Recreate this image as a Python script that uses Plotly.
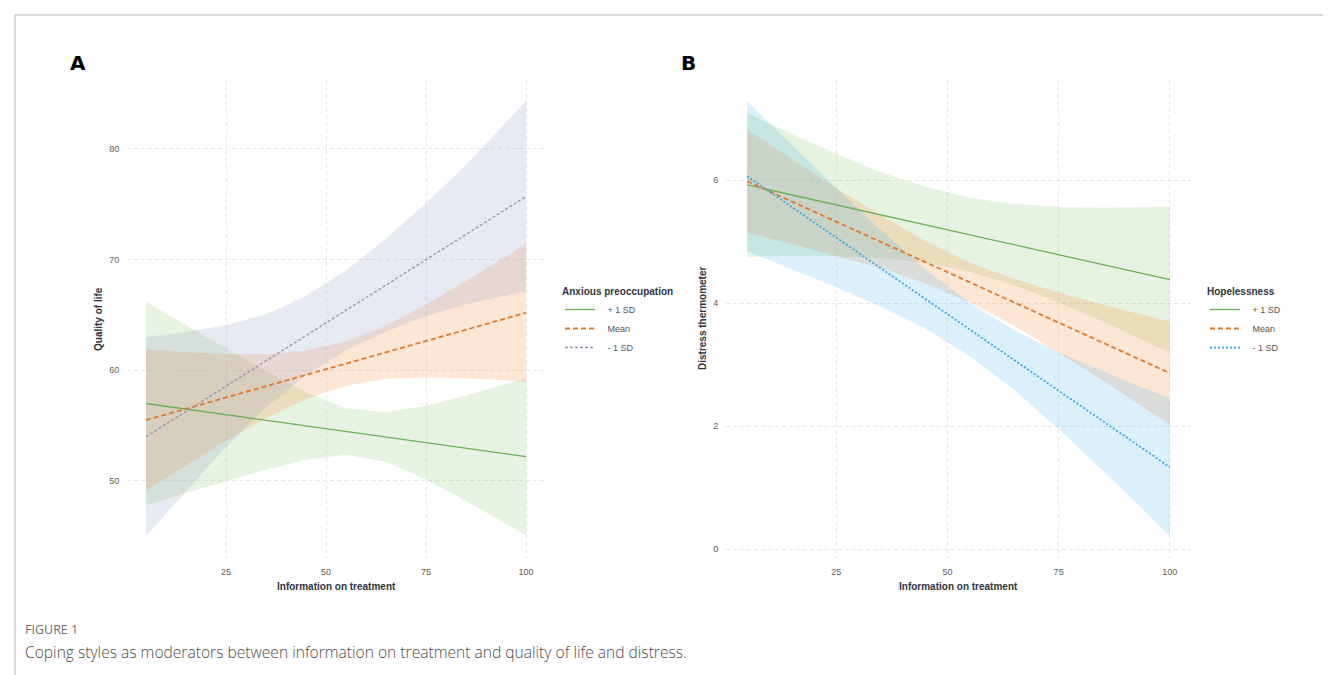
import plotly.graph_objects as go

W, H = 1331, 675

# ---------------- data ----------------
X = [5, 15, 25, 35, 45, 55, 65, 75, 85, 95, 100]
groups = ["+ 1 SD", "Mean", "- 1 SD"]

# Panel A: Quality of life, moderator = Anxious preoccupation
qol_fit_plus = [57.00, 56.49, 55.99, 55.48, 54.98, 54.47, 53.97, 53.46, 52.96, 52.45, 52.20]
qol_lo_plus = [47.81, 48.91, 50.00, 51.02, 51.91, 52.36, 51.73, 50.13, 48.20, 46.14, 45.10]
qol_hi_plus = [66.19, 64.07, 61.98, 59.94, 58.05, 56.58, 56.21, 56.79, 57.72, 58.76, 59.30]

qol_fit_mean = [55.50, 56.52, 57.54, 58.56, 59.58, 60.61, 61.63, 62.65, 63.67, 64.69, 65.20]
qol_lo_mean = [49.15, 51.42, 53.64, 55.66, 57.38, 58.61, 59.23, 59.35, 59.27, 59.09, 58.95]
qol_hi_mean = [61.85, 61.62, 61.44, 61.46, 61.78, 62.61, 64.03, 65.95, 68.07, 70.29, 71.45]

qol_fit_minus = [54.00, 56.28, 58.57, 60.85, 63.14, 65.42, 67.71, 69.99, 72.27, 74.56, 75.70]
qol_lo_minus = [45.00, 49.08, 53.07, 56.65, 59.54, 61.82, 63.51, 64.89, 65.97, 66.76, 67.10]
qol_hi_minus = [63.00, 63.48, 64.07, 65.05, 66.74, 69.02, 71.91, 75.09, 78.57, 82.36, 84.30]

# Panel B: Distress thermometer, moderator = Hopelessness
dis_fit_plus = [5.920, 5.758, 5.596, 5.434, 5.272, 5.109, 4.947, 4.785, 4.623, 4.461, 4.380]
dis_lo_plus = [4.75, 4.77, 4.76, 4.73, 4.66, 4.51, 4.29, 4.01, 3.70, 3.36, 3.19]
dis_hi_plus = [7.09, 6.75, 6.43, 6.13, 5.89, 5.71, 5.61, 5.56, 5.55, 5.56, 5.57]

dis_fit_mean = [5.980, 5.652, 5.323, 4.995, 4.666, 4.338, 4.009, 3.681, 3.353, 3.024, 2.860]
dis_lo_mean = [5.15, 4.96, 4.77, 4.57, 4.32, 4.01, 3.63, 3.19, 2.74, 2.26, 2.02]
dis_hi_mean = [6.82, 6.34, 5.87, 5.43, 5.01, 4.66, 4.39, 4.17, 3.97, 3.79, 3.70]

dis_fit_minus = [6.060, 5.562, 5.064, 4.566, 4.068, 3.570, 3.073, 2.575, 2.077, 1.579, 1.330]
dis_lo_minus = [4.84, 4.55, 4.26, 3.94, 3.59, 3.14, 2.59, 1.95, 1.27, 0.57, 0.21]
dis_hi_minus = [7.28, 6.57, 5.87, 5.19, 4.55, 4.00, 3.56, 3.20, 2.89, 2.59, 2.45]

x_ticks = [25, 50, 75, 100]
qol_ticks = [50, 60, 70, 80]
dis_ticks = [0, 2, 4, 6]

# ---------------- styles ----------------
GREEN = "#69AF55"
ORANGE = "#E07A2A"
GREYBLUE = "#9096AE"
SKY = "#3AA9DD"

FILL_GREEN = "rgba(120,190,90,0.18)"
FILL_ORANGE = "rgba(250,140,60,0.22)"
FILL_GREYBLUE = "rgba(150,160,200,0.22)"
FILL_SKY = "rgba(70,180,240,0.20)"

PAD = "&nbsp;&nbsp;&nbsp;"  # extra gap between legend key and label

fig = go.Figure()


def band(xaxis, yaxis, lo, hi, color):
    fig.add_trace(go.Scatter(
        x=X + X[::-1], y=hi + lo[::-1], fill="toself", fillcolor=color,
        line=dict(width=0), mode="lines", hoverinfo="skip", showlegend=False,
        xaxis=xaxis, yaxis=yaxis))


def line(xaxis, yaxis, y, name, color, dash, width, legend):
    fig.add_trace(go.Scatter(
        x=X, y=y, mode="lines", name=PAD + name,
        line=dict(color=color, dash=dash, width=width),
        xaxis=xaxis, yaxis=yaxis, legend=legend))


# Panel A
band("x", "y", qol_lo_plus, qol_hi_plus, FILL_GREEN)
band("x", "y", qol_lo_mean, qol_hi_mean, FILL_ORANGE)
band("x", "y", qol_lo_minus, qol_hi_minus, FILL_GREYBLUE)
line("x", "y", qol_fit_plus, groups[0], GREEN, "solid", 1.3, "legend")
line("x", "y", qol_fit_mean, groups[1], ORANGE, "5px,3px", 1.8, "legend")
line("x", "y", qol_fit_minus, groups[2], GREYBLUE, "3px,2px", 1.3, "legend")

# Panel B
band("x2", "y2", dis_lo_plus, dis_hi_plus, FILL_GREEN)
band("x2", "y2", dis_lo_mean, dis_hi_mean, FILL_ORANGE)
band("x2", "y2", dis_lo_minus, dis_hi_minus, FILL_SKY)
line("x2", "y2", dis_fit_plus, groups[0], GREEN, "solid", 1.3, "legend2")
line("x2", "y2", dis_fit_mean, groups[1], ORANGE, "5px,3px", 1.8, "legend2")
line("x2", "y2", dis_fit_minus, groups[2], SKY, "2px,2px", 1.8, "legend2")


def px(v):
    return v / W


def py(v):
    return 1 - v / H


axis_common = dict(
    showgrid=True, gridcolor="#E6E6E6", griddash="4px,3px", gridwidth=1,
    zeroline=False, showline=False,
    ticks="outside", ticklen=5, tickcolor="rgba(0,0,0,0)",
    tickfont=dict(family="Liberation Sans", size=9, color="#5A5A5A"),
)

legend_common = dict(
    xanchor="left", yanchor="top",
    font=dict(family="Liberation Sans", size=9, color="#555555"),
    bgcolor="rgba(0,0,0,0)", itemwidth=30, tracegroupgap=0,
)

fig.update_layout(
    width=W, height=H,
    margin=dict(l=0, r=0, t=0, b=0),
    paper_bgcolor="white", plot_bgcolor="white",
    xaxis=dict(domain=[px(119), px(537)], range=[0.25, 104.75],
               tickvals=x_ticks, anchor="y", **axis_common),
    yaxis=dict(domain=[py(550), py(72)], range=[43.04, 86.23],
               tickvals=qol_ticks, anchor="x", **axis_common),
    xaxis2=dict(domain=[px(718), px(1183)], range=[0.25, 104.75],
                tickvals=x_ticks, anchor="y2", **axis_common),
    yaxis2=dict(domain=[py(550), py(72)], range=[-0.146, 7.626],
                tickvals=dis_ticks, anchor="x2", **axis_common),
    legend=dict(
        x=px(552), y=py(274),
        title=dict(text="<b>Anxious preoccupation</b>",
                   font=dict(family="Liberation Sans", size=10, color="#2E3440")),
        **legend_common),
    legend2=dict(
        x=px(1197), y=py(274),
        title=dict(text="<b>Hopelessness</b>",
                   font=dict(family="Liberation Sans", size=10, color="#2E3440")),
        **legend_common),
    showlegend=True,
)

title_font = dict(family="Liberation Sans", size=10, color="#2E3440")
ann = [
    dict(text="<b>Information on treatment</b>", x=px(328), y=py(578),
         font=title_font),
    dict(text="<b>Information on treatment</b>", x=px(950), y=py(578),
         font=title_font),
    dict(text="<b>Quality of life</b>", x=px(91), y=py(311), textangle=-90,
         font=title_font),
    dict(text="<b>Distress thermometer</b>", x=px(695), y=py(311), textangle=-90,
         font=title_font),
    dict(text="<b>A</b>", x=px(70), y=py(55),
         font=dict(family="DejaVu Sans", size=20, color="black")),
    dict(text="<b>B</b>", x=px(680), y=py(55),
         font=dict(family="DejaVu Sans", size=20, color="black")),
    dict(text="FIGURE 1", x=px(15), y=py(621), xanchor="left",
         font=dict(family="Open Sans", size=12.5, color="#6E6E6E")),
    dict(text="Coping styles as moderators between information on treatment and quality of life and distress.",
         x=px(15), y=py(644), xanchor="left",
         font=dict(family="Open Sans", size=15.6, color="#4A4A4A", weight=300)),
]
for a in ann:
    a.setdefault("xanchor", "center")
    a.update(xref="paper", yref="paper", yanchor="middle", showarrow=False)
fig.update_layout(annotations=ann)

fig.add_shape(type="rect", xref="paper", yref="paper",
              x0=px(7), x1=px(1328), y0=py(690), y1=py(7),
              line=dict(color="#B4B4B4", width=1), fillcolor="rgba(0,0,0,0)")

fig.write_html("out.html")
